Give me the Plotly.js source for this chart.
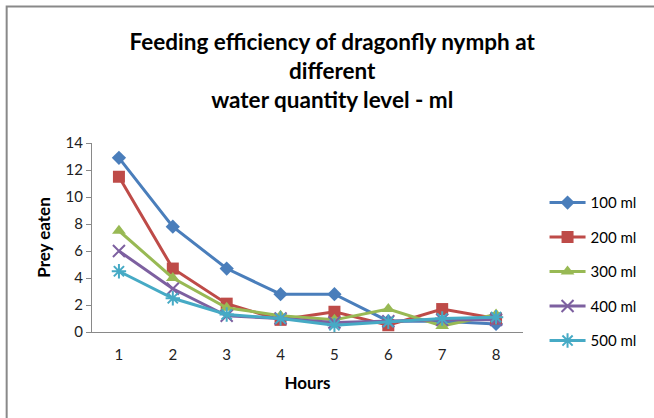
<!DOCTYPE html>
<html>
<head>
<meta charset="utf-8">
<script src="https://cdn.plot.ly/plotly-3.0.1.min.js"></script>
<style>html,body{margin:0;padding:0;background:#fff;}#chart{width:654px;height:418px;}</style>
</head>
<body>
<div id="chart"></div>
<script>
var hours = [1, 2, 3, 4, 5, 6, 7, 8];
var seriesNames = ["100 ml", "200 ml", "300 ml", "400 ml", "500 ml"];
var ml100 = [12.9, 7.8, 4.7, 2.8, 2.8, 0.8, 0.8, 0.6];
var ml200 = [11.5, 4.7, 2.1, 0.9, 1.5, 0.5, 1.7, 1.0];
var ml300 = [7.5, 4.0, 1.8, 1.2, 0.9, 1.7, 0.45, 1.3];
var ml400 = [6.0, 3.2, 1.2, 1.0, 0.7, 0.8, 0.9, 0.9];
var ml500 = [4.5, 2.5, 1.3, 1.0, 0.5, 0.75, 1.0, 1.1];
var yTicks = [0, 2, 4, 6, 8, 10, 12, 14];

var values = [ml100, ml200, ml300, ml400, ml500];
var colors = ["#4A7EBB", "#BE4B48", "#98B954", "#7D60A0", "#46AAC5"];
var symbols = ["diamond", "square", "triangle-up", "x-thin-open", "asterisk-open"];
var sizes = [11, 12, 12, 12, 12];

var traces = values.map(function (v, i) {
  var open = symbols[i].indexOf("open") >= 0;
  return {
    x: hours, y: v, name: seriesNames[i], type: "scatter", mode: "lines+markers",
    legendgroup: "g" + i,
    line: {color: colors[i], width: 3},
    marker: {symbol: symbols[i], size: sizes[i], color: colors[i],
             line: {color: colors[i], width: open ? 2 : 0}}
  };
});

var fam = "Lato, 'Open Sans', sans-serif";
var layout = {
  width: 654, height: 418,
  margin: {l: 92, r: 131, t: 143, b: 86},
  paper_bgcolor: "#fff", plot_bgcolor: "#fff",
  font: {family: fam, color: "#000", size: 14},
  title: {
    text: "Feeding efficiency of dragonfly nymph at<br>different<br>water quantity level - ml",
    font: {size: 22.5, family: fam, weight: "bold", color: "#000"},
    x: 0.508, xanchor: "center", y: 0.881, yanchor: "top"
  },
  xaxis: {
    range: [0.5, 8.5], tickvals: hours, ticktext: hours.map(String),
    showgrid: false, zeroline: false, showline: true, linecolor: "#898989", linewidth: 1,
    ticks: "", ticklabelstandoff: 9,
    tickfont: {size: 15, color: "#222"},
    title: {text: "Hours", font: {size: 17, weight: "bold", color: "#000"}, standoff: 15}
  },
  yaxis: {
    range: [0, 14], tickvals: yTicks,
    showgrid: false, zeroline: false, showline: true, linecolor: "#898989", linewidth: 1,
    ticks: "outside", ticklen: 5, tickcolor: "#898989",
    tickfont: {size: 15, color: "#222"},
    title: {text: "Prey eaten", font: {size: 17, weight: "bold", color: "#000"}, standoff: 10}
  },
  legend: {
    x: 1.05, xanchor: "left", y: 0.771, yanchor: "top",
    font: {size: 15, color: "#000"}, tracegroupgap: 12, itemwidth: 36,
    bgcolor: "rgba(0,0,0,0)"
  },
  shapes: [{
    type: "rect", xref: "paper", yref: "paper",
    x0: -0.198, x1: 2, y0: -1, y1: 1.722,
    line: {color: "#898989", width: 2}, fillcolor: "rgba(0,0,0,0)", layer: "below"
  }],
  showlegend: true
};

Plotly.newPlot("chart", traces, layout, {displayModeBar: false, staticPlot: true});
</script>
</body>
</html>
